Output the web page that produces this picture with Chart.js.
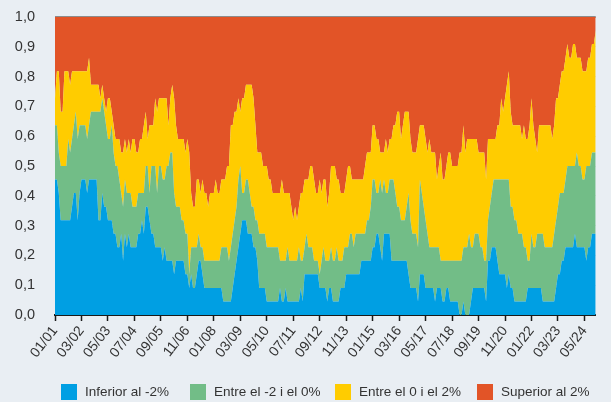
<!DOCTYPE html>
<html>
<head>
<meta charset="utf-8">
<script src="https://cdn.jsdelivr.net/npm/chart.js@4.4.1/dist/chart.umd.min.js"></script>
<style>
  html, body { margin: 0; padding: 0; background: #E9EEF3; }
  #wrap { position: relative; width: 611px; height: 402px; }
  .item { position: absolute; top: 384px; height: 16px; font: 13.5px 'Liberation Sans', Arial, sans-serif; color: #333; white-space: nowrap; }
  .item i { position: absolute; left: 0; top: 0; width: 16px; height: 16px; }
  .item span { position: absolute; left: 24px; top: 0px; line-height: 16px; }
</style>
</head>
<body>
<div id="wrap">
  <canvas id="chart"></canvas>
  <div id="legend"></div>
</div>
<script>
// number of countries out of 22 below each threshold, monthly from 01/2001
const START_YEAR = 2001;
const TOTAL = 22;

// below -2%
const below_m2 = [
  10,10,9,7,7,7,7,7,7,8,9,9,
  7,9,10,10,10,9,10,10,10,10,10,7,
  7,9,8,8,7,7,7,6,6,5,5,6,
  4,6,5,6,5,5,5,5,6,6,7,6,
  8,8,7,6,6,5,5,5,5,4,5,4,
  4,4,4,3,4,4,4,4,4,3,3,2,
  3,2,2,3,4,4,3,2,2,2,2,2,
  2,2,2,2,2,1,1,1,1,1,2,3,
  4,5,6,7,7,7,6,6,6,5,5,4,
  2,2,2,2,1,1,1,1,1,1,1,2,
  1,1,2,1,1,1,1,1,1,1,2,1,
  3,3,3,3,3,3,3,3,2,2,2,2,
  1,2,2,1,1,1,1,2,2,2,3,3,
  3,3,3,3,3,3,4,4,4,4,4,4,
  5,5,6,6,5,4,6,6,6,6,4,4,
  4,4,4,4,4,4,4,3,2,2,2,2,
  1,3,3,3,2,2,2,2,2,1,2,2,
  2,1,1,2,2,1,1,1,1,1,0,0,
  1,0,0,0,1,2,2,2,2,2,2,2,
  1,4,4,5,5,5,4,3,3,3,3,2,
  3,2,2,1,1,1,1,1,1,1,2,2,
  2,2,2,2,2,2,1,1,1,1,1,1,
  1,2,3,3,4,4,5,5,5,5,5,6,
  5,5,5,5,5,4,5,5,6,6,6
];

// below 0%
const below_0 = [
  14,14,12,11,11,11,11,13,12,13,14,15,
  13,14,14,14,14,13,14,15,15,15,15,15,
  15,16,15,14,13,13,14,12,11,11,10,9,
  8,10,9,9,9,8,8,8,9,9,9,9,
  11,11,9,11,11,11,9,11,11,10,10,11,
  11,12,12,9,8,8,8,7,7,6,6,3,
  5,5,5,5,6,5,5,4,4,4,4,4,
  4,4,4,4,5,5,5,5,4,5,6,7,
  8,10,11,9,9,10,10,9,8,8,7,7,
  6,6,6,6,5,5,5,5,5,5,5,4,
  4,4,4,5,4,4,4,4,4,5,4,4,
  5,6,5,5,5,4,4,4,3,4,5,4,
  4,4,5,4,4,5,4,4,4,5,5,5,
  6,6,5,6,6,6,6,6,6,7,7,8,
  10,10,9,9,10,9,10,9,9,10,10,10,
  9,8,8,7,7,7,8,9,7,6,6,6,
  5,10,9,8,7,6,5,5,5,5,5,5,
  4,4,4,4,4,4,4,4,4,4,4,4,
  5,5,5,6,5,5,6,6,6,5,5,4,
  4,7,8,9,10,10,10,10,10,10,10,10,
  10,8,8,7,7,6,6,6,5,5,4,4,
  6,5,5,6,6,6,6,5,5,5,5,5,
  6,7,8,9,9,9,10,11,11,11,11,11,
  12,11,11,10,10,11,11,11,12,12,12
];

// below 2%
const below_2 = [
  16,18,18,15,15,18,18,18,17,18,18,18,
  18,18,18,18,18,18,19,17,17,17,17,17,
  16,17,16,15,16,16,15,14,13,13,13,12,
  12,13,12,13,12,13,13,12,12,13,13,14,
  15,13,14,14,14,16,15,16,16,16,16,16,
  14,16,17,16,14,13,13,13,13,12,13,12,
  9,8,8,10,10,9,10,9,9,8,9,9,
  9,10,9,9,10,10,10,11,11,14,14,15,
  15,16,15,16,16,17,17,17,17,16,14,12,
  12,12,11,11,11,10,10,9,9,9,9,9,
  10,9,9,9,9,8,7,8,7,8,9,9,
  10,10,10,11,11,10,9,9,10,9,10,10,
  8,9,11,11,11,10,10,9,9,9,10,11,
  11,10,10,10,10,10,10,10,11,12,12,12,
  14,14,13,13,12,12,12,13,12,13,13,14,
  14,15,15,13,14,15,15,15,13,12,12,12,
  13,14,14,14,13,12,13,12,12,12,10,11,
  12,10,10,11,12,12,11,11,11,11,12,12,
  14,12,13,13,13,13,13,13,12,12,12,12,
  10,13,13,13,13,13,14,14,16,15,16,17,
  18,15,14,14,14,14,14,13,14,13,13,14,
  16,14,13,12,14,14,14,14,14,14,14,13,
  14,16,16,17,18,18,19,20,19,19,20,20,
  19,19,19,18,18,18,19,19,20,20,21
];

const tickLabels = ['01/01','03/02','05/03','07/04','09/05','11/06','01/08','03/09','05/10','07/11',
  '09/12','11/13','01/15','03/16','05/17','07/18','09/19','11/20','01/22','03/23','05/24'];

const seriesNames = ['Inferior al -2%', 'Entre el -2 i el 0%', 'Entre el 0 i el 2%', 'Superior al 2%'];
const colors = ['#009FE3', '#72BD87', '#FFCC00', '#E25427'];

const months = below_m2.map((_, i) => {
  const mm = String(i % 12 + 1).padStart(2, '0');
  const yy = String((START_YEAR + Math.floor(i / 12)) % 100).padStart(2, '0');
  return mm + '/' + yy;
});

// shares of each band from the cumulative counts
const shares = [
  below_m2.map(v => v / TOTAL),
  below_0.map((v, i) => Math.max(0, v - below_m2[i]) / TOTAL),
  below_2.map((v, i) => Math.max(0, v - below_0[i]) / TOTAL),
  below_2.map(v => (TOTAL - v) / TOTAL)
];

const FONT = "'Liberation Sans', Arial, sans-serif";

new Chart(document.getElementById('chart'), {
  type: 'line',
  data: {
    labels: months,
    datasets: shares.map((d, k) => ({
      label: seriesNames[k],
      data: d,
      backgroundColor: colors[k],
      borderColor: colors[k],
      borderWidth: 0,
      pointRadius: 0,
      tension: 0,
      fill: k === 0 ? 'origin' : '-1'
    }))
  },
  options: {
    responsive: true,
    maintainAspectRatio: false,
    animation: false,
    events: [],
    layout: { padding: { top: 17, left: 0, right: 0, bottom: 27 } },
    plugins: { legend: { display: false }, tooltip: { enabled: false } },
    scales: {
      x: {
        z: 1,
        border: { display: true, color: '#1a1a1a', width: 2 },
        grid: {
          drawOnChartArea: false,
          drawTicks: true,
          tickLength: 6,
          tickWidth: 1.5,
          tickColor: ctx => tickLabels.includes(months[ctx.index]) ? '#1a1a1a' : 'rgba(0,0,0,0)'
        },
        ticks: {
          autoSkip: false,
          maxRotation: 52,
          minRotation: 52,
          padding: 2,
          color: '#333',
          font: { family: FONT, size: 14 },
          callback: function (v) {
            const l = this.getLabelForValue(v);
            return tickLabels.includes(l) ? l : '';
          }
        },
        afterFit: s => { s.height = 60; }
      },
      y: {
        z: 1,
        stacked: true,
        min: 0,
        max: 1,
        border: { display: false },
        grid: {
          drawTicks: true,
          tickLength: 16,
          tickColor: 'rgba(0,0,0,0)',
          color: ctx => ctx.tick.value >= 0.999 ? '#8c8c8c' : (ctx.tick.value <= 0.001 ? 'rgba(0,0,0,0)' : 'rgba(40,40,40,0.10)'),
          lineWidth: ctx => ctx.tick.value >= 0.999 ? 2 : 1
        },
        ticks: {
          stepSize: 0.1,
          padding: 4,
          color: '#333',
          font: { family: FONT, size: 14.5 },
          callback: v => v.toFixed(1).replace('.', ',')
        },
        afterFit: s => { s.width = 55; }
      }
    }
  }
});

// legend
const legendPos = [61, 190, 335, 477];
const legend = document.getElementById('legend');
seriesNames.forEach((name, k) => {
  const item = document.createElement('div');
  item.className = 'item';
  item.style.left = legendPos[k] + 'px';
  item.innerHTML = '<i style="background:' + colors[k] + '"></i><span>' + name + '</span>';
  legend.appendChild(item);
});
</script>
</body>
</html>
